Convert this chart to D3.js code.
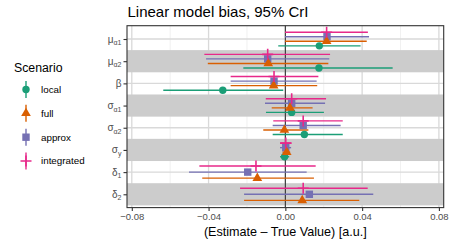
<!DOCTYPE html>
<html lang="en">
<head>
<meta charset="UTF-8">
<script src="https://d3js.org/d3.v7.min.js"></script>
<title>Linear model bias</title>
<style>
  body { margin: 0; background: #fff; }
  text { font-family: "Liberation Sans", Arial, sans-serif; }
</style>
</head>
<body>
<svg id="chart" width="450" height="246"></svg>
<script>

// parameters, top to bottom
const params   = ["mu_a1", "mu_a2", "beta", "sigma_a1", "sigma_a2", "sigma_y", "delta_1", "delta_2"];
const symbols  = ["μ", "μ", "β", "σ", "σ", "σ", "δ", "δ"];
const subs     = ["α1", "α2", "", "α1", "α2", "y", "1", "2"];

const scenarios = ["local", "full", "approx", "integrated"];
const colors    = ["#1B9E77", "#D95F02", "#7570B3", "#E7298A"];

// estimate, lower and upper 95% CrI per scenario (null = not in model)
const localEst  = [0.0177, 0.0175, -0.0326, 0.0033, 0.0099, -0.0004, null, null];
const localLo   = [-0.0037, -0.0219, -0.0636, -0.0101, -0.0066, -0.0028, null, null];
const localHi   = [0.0392, 0.0559, -0.0011, 0.0201, 0.0299, 0.0020, null, null];

const fullEst   = [0.0215, -0.0089, -0.0061, 0.0024, -0.0005, 0.0007, -0.0146, 0.0088];
const fullLo    = [-0.0002, -0.0404, -0.0285, -0.0071, -0.0115, -0.0015, -0.0433, -0.0215];
const fullHi    = [0.0424, 0.0224, 0.0166, 0.0142, 0.0120, 0.0025, 0.0149, 0.0385];

const approxEst = [0.0217, -0.0092, -0.0059, 0.0033, 0.0093, 0.0002, -0.0196, 0.0125];
const approxLo  = [-0.0002, -0.0413, -0.0285, -0.0106, -0.0066, -0.0028, -0.0502, -0.0215];
const approxHi  = [0.0436, 0.0229, 0.0163, 0.0207, 0.0288, 0.0030, 0.0111, 0.0458];

const integEst  = [0.0215, -0.0092, -0.0059, 0.0033, 0.0093, 0.0002, -0.0153, 0.0093];
const integLo   = [-0.0002, -0.0422, -0.0285, -0.0102, -0.0063, -0.0028, -0.0448, -0.0236];
const integHi   = [0.0430, 0.0233, 0.0172, 0.0212, 0.0299, 0.0033, 0.0158, 0.0429];

const xTicks      = [-0.08, -0.04, 0, 0.04, 0.08];
const xMinorTicks = [-0.06, -0.02, 0.02, 0.06];

const series = [
  [localEst, localLo, localHi],
  [fullEst, fullLo, fullHi],
  [approxEst, approxLo, approxHi],
  [integEst, integLo, integHi]
];

// flat rows for drawing
let rows = [];
params.forEach((p, i) => {
  series.forEach((s, j) => {
    if (s[0][i] !== null) {
      rows.push({param: p, scenario: scenarios[j], est: s[0][i], lo: s[1][i], hi: s[2][i]});
    }
  });
});

const svg = d3.select("svg#chart");
const panel = {left: 127, right: 443.7, top: 25.7, bottom: 207.6};

const x = d3.scaleLinear().domain([-0.0825, 0.0825]).range([panel.left, panel.right]);
const y = d3.scalePoint().domain(params).range([panel.top, panel.bottom]).padding(0.6);
const color = d3.scaleOrdinal().domain(scenarios).range(colors);
const step = y.step();
const dodge = 0.82 * step;

// dodge position within a parameter (local at the bottom)
function dodgeY(d) {
  let present = rows.filter(r => r.param === d.param).map(r => r.scenario);
  let n = present.length;
  let i = present.indexOf(d.scenario);
  let s = dodge / n;
  return y(d.param) + ((n - 1) / 2 - i) * s;
}

// grid
let grid = svg.append("g");
grid.selectAll("line.minor").data(xMinorTicks).join("line")
    .attr("x1", d => x(d)).attr("x2", d => x(d))
    .attr("y1", panel.top).attr("y2", panel.bottom)
    .attr("stroke", "#ebebeb").attr("stroke-width", 0.7);
grid.selectAll("line.major").data(xTicks).join("line")
    .attr("x1", d => x(d)).attr("x2", d => x(d))
    .attr("y1", panel.top).attr("y2", panel.bottom)
    .attr("stroke", "#d9d9d9").attr("stroke-width", 1.3);
grid.selectAll("line.hmajor").data(params).join("line")
    .attr("x1", panel.left).attr("x2", panel.right)
    .attr("y1", d => y(d)).attr("y2", d => y(d))
    .attr("stroke", "#d9d9d9").attr("stroke-width", 1.3);

// alternating bands
svg.append("g").selectAll("rect").data(params.filter((d, i) => i % 2 === 1)).join("rect")
    .attr("x", panel.left).attr("width", panel.right - panel.left)
    .attr("y", d => y(d) - step / 2).attr("height", step)
    .attr("fill", "#cccccc");

// zero line
svg.append("line")
    .attr("x1", x(0)).attr("x2", x(0))
    .attr("y1", panel.top).attr("y2", panel.bottom)
    .attr("stroke", "#333333").attr("stroke-width", 1.1);

// intervals
svg.append("g").selectAll("line").data(rows).join("line")
    .attr("x1", d => x(d.lo)).attr("x2", d => x(d.hi))
    .attr("y1", d => dodgeY(d)).attr("y2", d => dodgeY(d))
    .attr("stroke", d => color(d.scenario)).attr("stroke-width", 1.4);

// point shapes
function drawShape(g, scenario, cx, cy) {
  let c = color(scenario);
  if (scenario === "local") {
    g.append("circle").attr("cx", cx).attr("cy", cy).attr("r", 3.7).attr("fill", c);
  } else if (scenario === "full") {
    let r = 5.6;
    let pts = [[cx, cy - r], [cx + r * 0.866, cy + r / 2], [cx - r * 0.866, cy + r / 2]];
    g.append("path").attr("d", d3.line()(pts) + "Z").attr("fill", c);
  } else if (scenario === "approx") {
    g.append("rect").attr("x", cx - 3.7).attr("y", cy - 3.7)
     .attr("width", 7.4).attr("height", 7.4).attr("fill", c);
  } else {
    g.append("path")
     .attr("d", `M${cx - 5.5},${cy}H${cx + 5.5}M${cx},${cy - 5.5}V${cy + 5.5}`)
     .attr("stroke", c).attr("stroke-width", 1.6).attr("fill", "none");
  }
}

let pointsG = svg.append("g");
["approx", "local", "full", "integrated"].forEach(sc => {
  rows.filter(d => d.scenario === sc).forEach(d => drawShape(pointsG, sc, x(d.est), dodgeY(d)));
});

// panel border
svg.append("rect")
    .attr("x", panel.left).attr("y", panel.top)
    .attr("width", panel.right - panel.left).attr("height", panel.bottom - panel.top)
    .attr("fill", "none").attr("stroke", "#333333").attr("stroke-width", 1.1);

// axes
let xAxis = svg.append("g")
    .attr("transform", `translate(0,${panel.bottom})`)
    .call(d3.axisBottom(x).tickValues(xTicks).tickSize(3.5).tickPadding(2).tickFormat(d3.format(".2f")));
xAxis.select(".domain").remove();
xAxis.selectAll("line").attr("stroke", "#333333").attr("stroke-width", 1.1);
xAxis.selectAll("text").attr("fill", "#4d4d4d").style("font-size", "9.5px")
    .style("font-family", "'Liberation Sans', Arial, sans-serif");

let yAxis = svg.append("g")
    .attr("transform", `translate(${panel.left},0)`)
    .call(d3.axisLeft(y).tickSize(3.5).tickPadding(2).tickFormat(""));
yAxis.select(".domain").remove();
yAxis.selectAll("line").attr("stroke", "#333333").attr("stroke-width", 1.1);
yAxis.selectAll(".tick text").each(function(d) {
  let i = params.indexOf(d);
  let t = d3.select(this).attr("fill", "#4d4d4d")
      .style("font-family", "'Liberation Sans', Arial, sans-serif")
      .attr("dy", "0.3em");
  t.append("tspan").style("font-size", "10px").text(symbols[i]);
  if (subs[i]) {
    t.append("tspan").style("font-size", "7px").attr("dy", "2.5").text(subs[i]);
  }
});

// titles
svg.append("text")
    .attr("x", panel.left + 0.5).attr("y", 16.8)
    .style("font-size", "15px").attr("fill", "#000")
    .text("Linear model bias, 95% CrI");

svg.append("text")
    .attr("x", (panel.left + panel.right) / 2).attr("y", 236)
    .attr("text-anchor", "middle")
    .style("font-size", "12.6px").attr("fill", "#000")
    .text("(Estimate – True Value) [a.u.]");

// legend
let legend = svg.append("g");
legend.append("text").attr("x", 14).attr("y", 71.5)
    .style("font-size", "12.3px").text("Scenario");

const legendY = [89.5, 113.3, 137.2, 161];
scenarios.forEach((sc, i) => {
  let ly = legendY[i];
  legend.append("line")
      .attr("x1", 26).attr("x2", 26).attr("y1", ly - 8.5).attr("y2", ly + 8.5)
      .attr("stroke", color(sc)).attr("stroke-width", 1.4);
  drawShape(legend, sc, 26, ly);
  legend.append("text").attr("x", 41).attr("y", ly).attr("dy", "0.35em")
      .style("font-size", "9.8px").text(sc);
});

</script>
</body>
</html>
